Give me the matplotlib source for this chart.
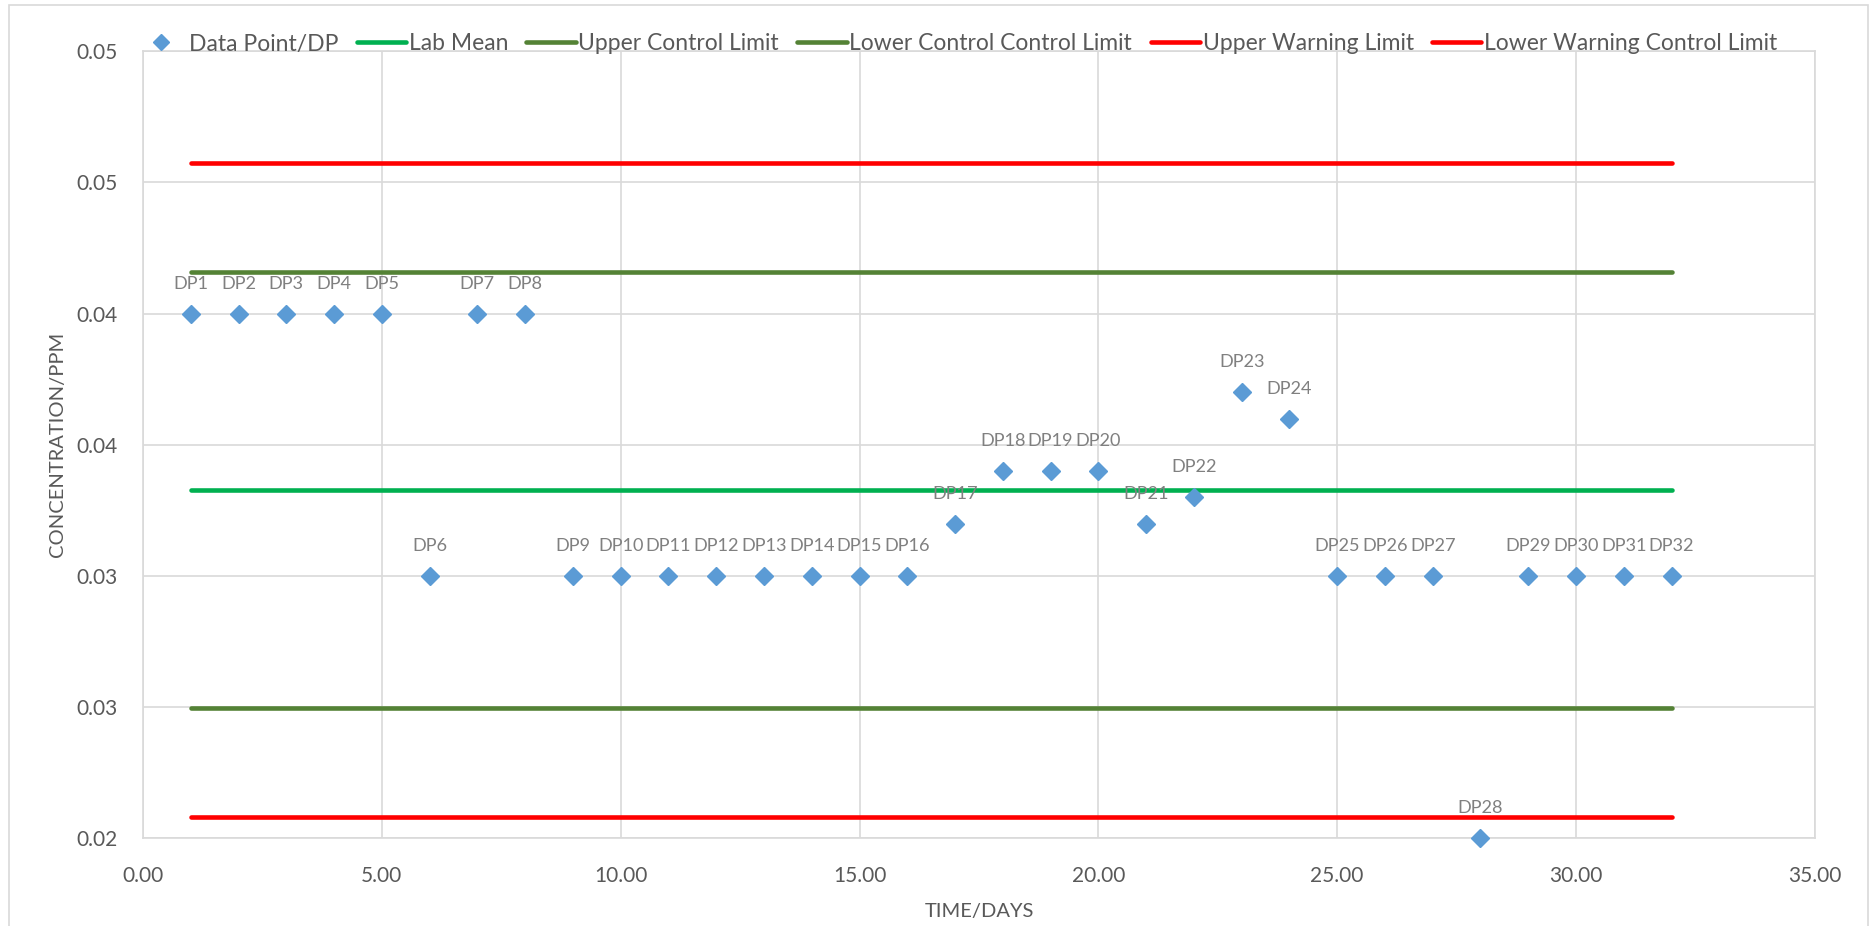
import matplotlib.pyplot as plt
from matplotlib.lines import Line2D
from matplotlib.patches import Rectangle

plt.rcParams['font.family'] = ['Lato', 'DejaVu Sans']

# days and measured concentrations (ppm)
days = list(range(1, 33))
concentration = [0.040, 0.040, 0.040, 0.040, 0.040, 0.030, 0.040, 0.040,
                 0.030, 0.030, 0.030, 0.030, 0.030, 0.030, 0.030, 0.030,
                 0.032, 0.034, 0.034, 0.034, 0.032, 0.033, 0.037, 0.036,
                 0.030, 0.030, 0.030, 0.020, 0.030, 0.030, 0.030, 0.030]
point_labels = ['DP' + str(d) for d in days]

# control chart limits
lab_mean = 0.03327
upper_control = 0.04157
lower_control = 0.02497
upper_warning = 0.04572
lower_warning = 0.02082

xticks = [0, 5, 10, 15, 20, 25, 30, 35]
xtick_labels = ['0.00', '5.00', '10.00', '15.00', '20.00', '25.00', '30.00', '35.00']
yticks = [0.020, 0.025, 0.030, 0.035, 0.040, 0.045, 0.050]
ytick_labels = ['0.02', '0.03', '0.03', '0.04', '0.04', '0.05', '0.05']

blue = '#5B9BD5'
green = '#00B050'
dkgreen = '#548235'
red = '#FF0000'
txt = '#595959'
grid = '#D9D9D9'

fig = plt.figure(figsize=(18.7, 9.26), dpi=100)
ax = fig.add_axes([0.0765, 0.0945, 0.894, 0.8504])

# chart border
fig.patches.append(Rectangle((9 / 1870, -0.01), 1859 / 1870, 1.0 - 5 / 926 + 0.01,
                             transform=fig.transFigure, fill=False,
                             edgecolor=grid, lw=1.2, clip_on=False))

x_ends = [days[0], days[-1]]
lw = 3.3
ax.plot(x_ends, [lab_mean] * 2, color=green, lw=lw, solid_capstyle='round', zorder=2)
ax.plot(x_ends, [upper_control] * 2, color=dkgreen, lw=lw, solid_capstyle='round', zorder=2)
ax.plot(x_ends, [lower_control] * 2, color=dkgreen, lw=lw, solid_capstyle='round', zorder=2)
ax.plot(x_ends, [upper_warning] * 2, color=red, lw=lw, solid_capstyle='round', zorder=2)
ax.plot(x_ends, [lower_warning] * 2, color=red, lw=lw, solid_capstyle='round', zorder=2)

ax.plot(days, concentration, linestyle='none', marker='D', ms=8.8,
        color=blue, zorder=3, clip_on=False)

for d, c, lab in zip(days, concentration, point_labels):
    ax.annotate(lab, (d, c), xytext=(0, 18), textcoords='offset points',
                ha='center', va='baseline', fontsize=13.1, color='#808080', zorder=4)

ax.set_xlim(0, 35)
ax.set_ylim(0.02, 0.05)
ax.set_xticks(xticks)
ax.set_xticklabels(xtick_labels)
ax.set_yticks(yticks)
ax.set_yticklabels(ytick_labels)
ax.tick_params(length=0, labelsize=15, colors=txt)
ax.tick_params(axis='x', pad=20)
ax.tick_params(axis='y', pad=18.5)
ax.grid(True, color=grid, lw=1.2)
ax.set_axisbelow(True)
for s in ax.spines.values():
    s.set_color(grid)
    s.set_linewidth(1.2)

ax.set_xlabel('TIME/DAYS', fontsize=14.5, color=txt, labelpad=12)
ax.set_ylabel('CONCENTRATION/PPM', fontsize=14.5, color=txt, labelpad=7)

handles = [
    Line2D([], [], linestyle='none', marker='D', ms=8, color=blue),
    Line2D([], [], color=green, lw=lw, solid_capstyle='round'),
    Line2D([], [], color=dkgreen, lw=lw, solid_capstyle='round'),
    Line2D([], [], color=dkgreen, lw=lw, solid_capstyle='round'),
    Line2D([], [], color=red, lw=lw, solid_capstyle='round'),
    Line2D([], [], color=red, lw=lw, solid_capstyle='round'),
]
names = ['Data Point/DP', 'Lab Mean', 'Upper Control Limit',
         'Lower Control Control Limit', 'Upper Warning Limit',
         'Lower Warning Control Limit']
leg = fig.legend(handles, names, loc='center', bbox_to_anchor=(957 / 1870, 1 - 44 / 926),
                 ncol=6, frameon=False, fontsize=16.5, handlelength=2.15,
                 handletextpad=0.12, columnspacing=0.8, borderpad=0)
for t in leg.get_texts():
    t.set_color(txt)

fig.savefig('out.png', dpi=100)
